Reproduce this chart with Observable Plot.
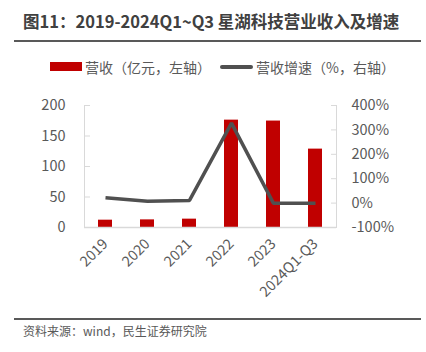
<!DOCTYPE html>
<html><head><meta charset="utf-8">
<script src="https://cdn.jsdelivr.net/npm/d3@7"></script>
<script src="https://cdn.jsdelivr.net/npm/@observablehq/plot@0.6"></script>
<style>
body{margin:0;background:#fff;}
#wrap{position:relative;width:426px;height:352px;background:#fff;font-family:"Noto Sans CJK SC","Noto Sans",sans-serif;color:#595959;overflow:hidden;}
#title{position:absolute;left:23px;top:8px;font-size:16.5px;font-weight:bold;color:#404040;white-space:nowrap;line-height:26px;}
.hr{position:absolute;left:14px;width:407px;height:2px;background:#595959;}
.leg{position:absolute;top:57px;font-size:14px;line-height:20px;white-space:nowrap;color:#595959;}
.sw{position:absolute;}
#src{position:absolute;left:23px;top:322px;font-size:12px;line-height:18px;color:#595959;white-space:nowrap;}
#chart{position:absolute;left:0;top:90px;}
</style></head>
<body><div id="wrap">
<div id="title">图11：2019-2024Q1~Q3 星湖科技营业收入及增速</div>
<div class="hr" style="top:40px"></div>
<div class="sw" style="left:50px;top:62px;width:32px;height:9px;background:#C00000"></div>
<div class="leg" style="left:85px">营收（亿元，左轴）</div>
<div class="sw" style="left:220px;top:65px;width:33px;height:4px;background:#505050;border-radius:2px"></div>
<div class="leg" style="left:256px">营收增速（%，右轴）</div>
<div id="chart"></div>
<div class="hr" style="top:318px"></div>
<div id="src">资料来源：wind，民生证券研究院</div>
</div>
<script>
const categories = ["2019","2020","2021","2022","2023","2024Q1-Q3"];
const revenue = [12.0, 12.5, 13.7, 176.0, 174.5, 128.5];
const growth = [22, 8, 11, 328, -1, -1];
const leftTicks = [0, 50, 100, 150, 200];
const rightTicks = [-100, 0, 100, 200, 300, 400];

const toLeft = g => (g + 100) * 200 / 500;
const bars = categories.map((c, i) => ({c, v: revenue[i]}));
const pts = categories.map((c, i) => ({c, g: toLeft(growth[i])}));
const axisColor = "#d9d9d9";
const font = "Noto Sans CJK SC, Noto Sans, sans-serif";

const chart = Plot.plot({
  width: 426,
  height: 220,
  marginLeft: 84,
  marginRight: 90,
  marginTop: 15,
  marginBottom: 83,
  style: {fontFamily: font, fontSize: "14px", color: "#595959", background: "transparent"},
  x: {type: "band", domain: categories, paddingInner: 2/3, paddingOuter: 1/3},
  y: {domain: [0, 200]},
  marks: [
    Plot.frame({anchor: "left", stroke: axisColor}),
    Plot.frame({anchor: "right", stroke: axisColor}),
    Plot.axisY(leftTicks, {anchor: "right", frameAnchor: "left", tickSize: 5, tickFormat: () => "", stroke: axisColor, label: null}),
    Plot.axisY(rightTicks.map(toLeft), {anchor: "left", frameAnchor: "right", tickSize: 5, tickFormat: () => "", stroke: axisColor, label: null}),
    Plot.axisY(leftTicks, {anchor: "left", tickSize: 0, tickPadding: 19, fontSize: 14.5, fill: "#595959", label: null}),
    Plot.axisY(rightTicks.map(toLeft), {anchor: "right", tickSize: 0, tickPadding: 15, fontSize: 14.5, fill: "#595959", label: null,
      tickFormat: d => `${Math.round(d * 500 / 200 - 100)}%`}),
    Plot.axisX({tickSize: 0, tickRotate: -45, tickPadding: 14, fontSize: 14.5, fill: "#595959", label: null}),
    Plot.barY(bars, {x: "c", y: "v", fill: "#C00000"}),
    Plot.ruleY([0], {stroke: axisColor, strokeWidth: 1.5}),
    Plot.line(pts, {x: "c", y: "g", stroke: "#505050", strokeWidth: 3.5, strokeLinejoin: "miter", strokeLinecap: "butt"})
  ]
});
document.getElementById("chart").appendChild(chart);
</script>
</body></html>
